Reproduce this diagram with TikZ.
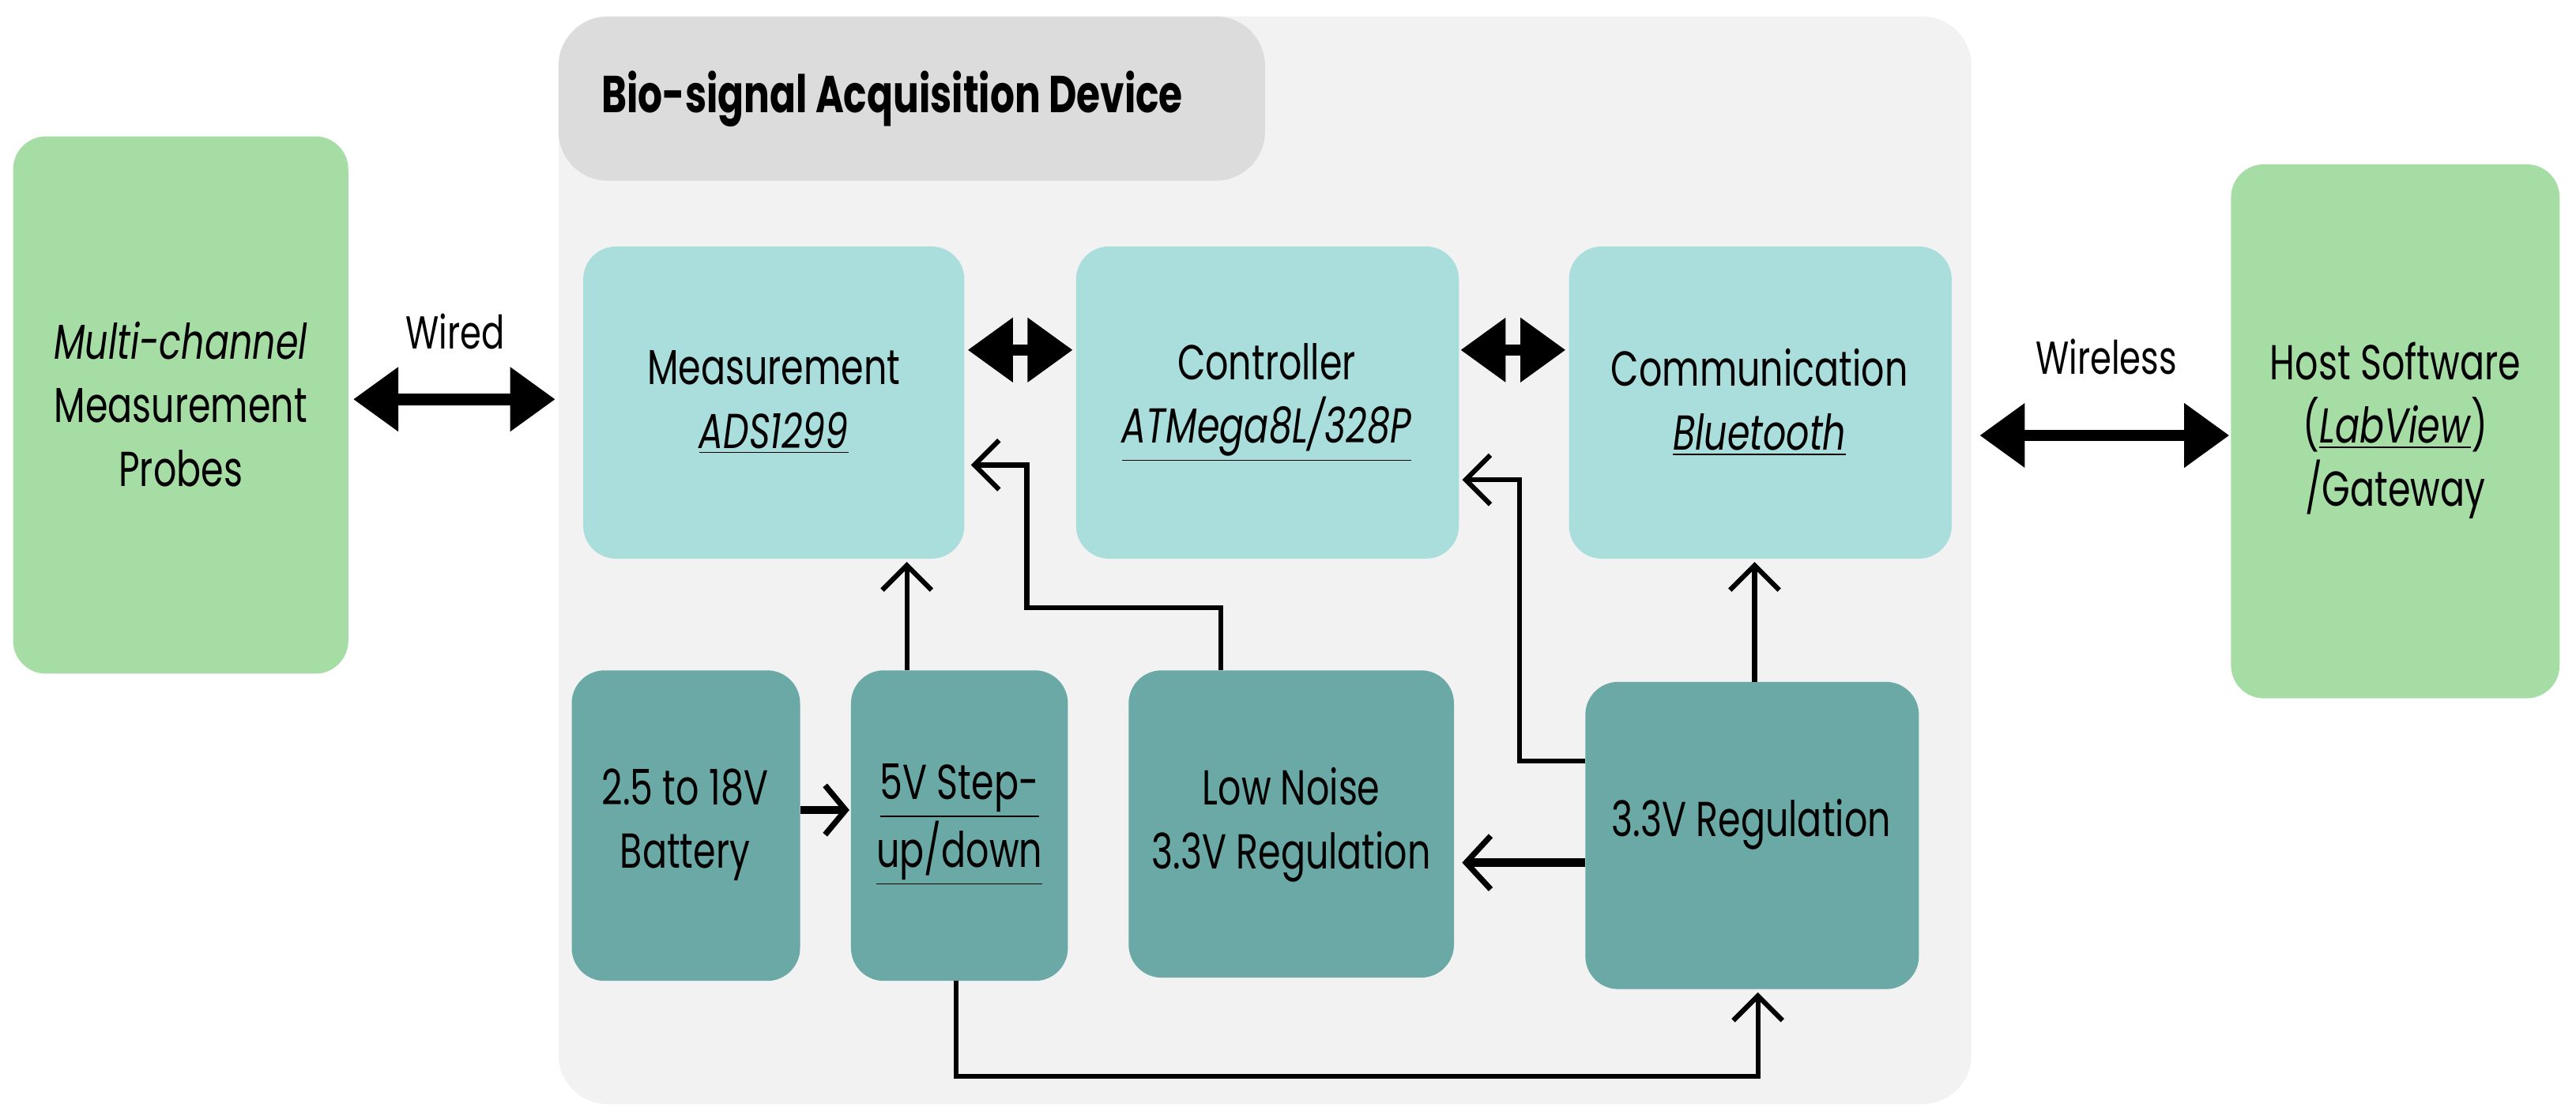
\documentclass[tikz,border=0pt]{standalone}
\usepackage{fontspec}
\setmainfont{Poppins}[FakeStretch=0.74]
\usetikzlibrary{arrows.meta}
\definecolor{panel}{HTML}{F2F2F2}
\definecolor{tab}{HTML}{DCDCDC}
\definecolor{green}{HTML}{A6DDA4}
\definecolor{cyanb}{HTML}{A9DEDD}
\definecolor{teal}{HTML}{6BA9A6}
\begin{document}
\begin{tikzpicture}[x=0.02cm,y=-0.02cm,
  box/.style={rounded corners=0.4cm,font=\fontsize{17}{22}\selectfont,align=center,text=black},
  big/.style={line width=0.14cm,{Triangle[length=0.55cm,width=0.75cm]}-{Triangle[length=0.55cm,width=0.75cm]}},
  thin/.style={line width=0.06cm,-{Straight Barb[length=0.3cm,width=0.6cm,line width=0.06cm]}},
  lbl/.style={font=\fontsize{16}{20}\selectfont}]
\useasboundingbox (0,0) rectangle (1568,681);
\fill[panel,rounded corners=0.6cm] (340,10) rectangle (1200,672);
\fill[tab,rounded corners=0.6cm] (340,10) -- (770,10) -- (770,110) -- (340,110) -- cycle;
\fill[panel] (340,110) rectangle (760,115);
\node[font=\bfseries\fontsize{18}{22}\selectfont,anchor=west] (title) at (360,60) {Bio-signal Acquisition Device};
\fill[green,box] (8,83) rectangle (212,410); \node[box] (probe) at (110,246) {\textit{Multi-channel}\\Measurement\\Probes};
\fill[green,box] (1358,100) rectangle (1558,425); \node[box] (host) at (1458,262) {Host Software\\(\underline{\textit{LabView}})\\/Gateway};
\fill[cyanb,box] (355,150) rectangle (587,340); \node[box] (meas) at (471,245) {Measurement\\\underline{\textit{ADS1299}}};
\fill[cyanb,box] (655,150) rectangle (888,340); \node[box] (ctrl) at (771,245) {Controller\\\underline{\textit{ATMega8L/328P}}};
\fill[cyanb,box] (955,150) rectangle (1188,340); \node[box] (comm) at (1071,245) {Communication\\\underline{\textit{Bluetooth}}};
\fill[teal,box] (348,408) rectangle (487,597); \node[box] (bat) at (417,502) {2.5 to 18V\\Battery};
\fill[teal,box] (518,408) rectangle (650,597); \node[box] (step) at (584,502) {\underline{5V Step-}\\\underline{up/down}};
\fill[teal,box] (687,408) rectangle (885,595); \node[box] (ln) at (786,502) {Low Noise\\3.3V Regulation};
\fill[teal,box] (965,415) rectangle (1168,602); \node[box] (reg) at (1066,502) {3.3V Regulation};
\coordinate (pl) at (212,243); \coordinate (ml) at (340,243);
\draw[big] (215,243) -- (338,243);
\node[lbl] (wired) at (277,202) {Wired};
\draw[big] (589,213) -- (653,213);
\draw[big] (889,213) -- (953,213);
\draw[big] (1205,265) -- (1357,265);
\node[lbl] (wl) at (1282,217) {Wireless};
\draw[thin] (552,408) -- (552,342);
\draw[thin] (743,408) -- (743,370) -- (625,370) -- (625,283) -- (591,283);
\draw[thin] (965,463) -- (925,463) -- (925,292) -- (890,292);
\draw[thin] (1068,415) -- (1068,342);
\draw[line width=0.1cm,-{Straight Barb[length=0.3cm,width=0.65cm,line width=0.07cm]}] (965,525) -- (890,525);
\draw[line width=0.1cm,-{Straight Barb[length=0.25cm,width=0.6cm,line width=0.07cm]}] (487,493) -- (517,493);
\draw[thin] (582,597) -- (582,655) -- (1070,655) -- (1070,604);
\end{tikzpicture}
\end{document}
